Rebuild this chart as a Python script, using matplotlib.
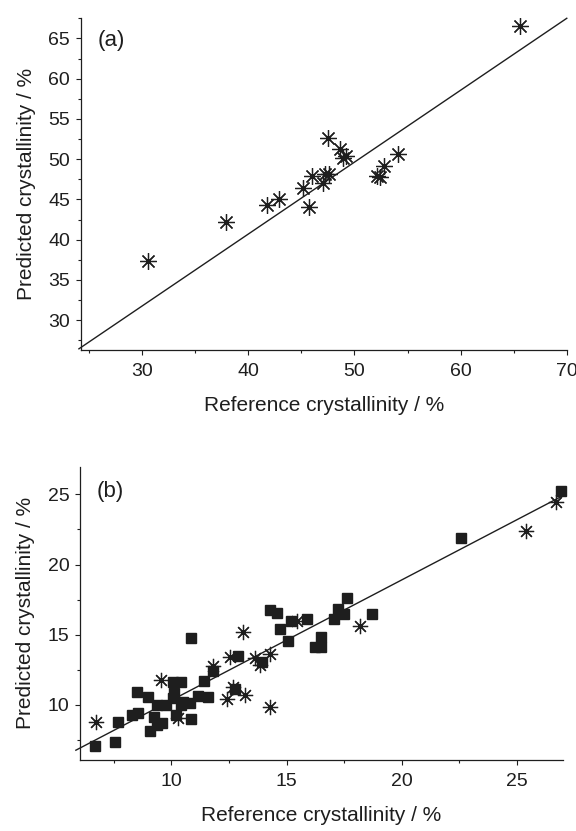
import matplotlib
matplotlib.use("Agg")
import matplotlib.pyplot as plt
from matplotlib.ticker import MultipleLocator

plt.rcParams["font.family"] = ["Liberation Sans", "DejaVu Sans"]

INK = "#1e1e1e"

# (a) reference vs predicted crystallinity, asterisks
a_ref = [30.6, 37.9, 41.8, 42.9, 45.2, 45.7, 46.0, 47.0, 47.2, 47.6,
         47.5, 48.6, 48.9, 49.2, 52.1, 52.4, 52.8, 54.1, 65.6]
a_pred = [37.4, 42.2, 44.3, 45.1, 46.4, 44.1, 47.9, 47.1, 48.2, 48.2,
          52.6, 51.3, 50.1, 50.4, 47.9, 47.8, 49.1, 50.6, 66.5]
a_line_x = [24.05, 70.0]
a_line_y = [26.45, 67.5]

# (b) squares
b_sq_ref = [6.67, 7.54, 7.66, 8.29, 8.55, 8.52, 8.98, 9.06, 9.25, 9.38,
            9.38, 9.61, 9.78, 10.07, 10.11, 10.07, 10.19, 10.40, 10.40, 10.50,
            10.80, 10.87, 10.85, 11.16, 11.40, 11.59, 11.81, 12.75, 12.89, 13.95,
            14.27, 14.60, 14.73, 15.08, 15.18, 15.90, 16.22, 16.48, 16.51, 17.04,
            17.23, 17.49, 17.62, 18.71, 22.59, 26.93]
b_sq_pred = [7.08, 7.39, 8.81, 9.29, 9.45, 10.95, 10.59, 8.17, 9.12, 8.58,
             10.00, 8.69, 10.00, 11.61, 10.88, 10.47, 9.29, 11.61, 10.00, 10.24,
             10.15, 9.00, 14.80, 10.64, 11.71, 10.59, 12.44, 11.12, 13.49, 13.08,
             16.77, 16.53, 15.43, 14.58, 16.00, 16.10, 14.15, 14.15, 14.82, 16.12,
             16.84, 16.46, 17.60, 16.46, 21.87, 25.24]
# (b) asterisks
b_ast_ref = [6.71, 9.54, 10.29, 11.81, 12.43, 12.53, 12.67, 13.11, 13.18,
             13.64, 13.83, 14.27, 14.27, 15.47, 18.20, 25.38, 26.71]
b_ast_pred = [8.77, 11.78, 9.05, 12.78, 10.41, 13.44, 11.30, 15.22, 10.71,
              13.37, 12.85, 13.63, 9.88, 16.00, 15.62, 22.41, 24.44]
b_line_x = [5.85, 26.91]
b_line_y = [6.78, 24.83]

AST = (8, 2, 0)


def style_axes(ax):
    for side in ("top", "right"):
        ax.spines[side].set_visible(False)
    for side in ("left", "bottom"):
        ax.spines[side].set_linewidth(0.9)
        ax.spines[side].set_color(INK)
    ax.tick_params(which="both", direction="out", width=0.8, colors=INK,
                   labelsize=14, labelcolor=INK)
    ax.tick_params(which="major", length=3.6)
    ax.tick_params(which="minor", length=2.2)
    ax.tick_params(axis="x", which="both", pad=6)
    ax.tick_params(axis="y", which="both", pad=4)


fig = plt.figure(figsize=(5.76, 8.31), dpi=100)

# panel (a)
ax1 = fig.add_axes([0.1398, 0.5788, 0.8442, 0.3992])
ax1.plot(a_line_x, a_line_y, color=INK, lw=1.0, clip_on=False, zorder=2)
ax1.plot(a_ref, a_pred, linestyle="none", marker=AST, markersize=12,
         markeredgewidth=0.9, color=INK, zorder=3)
ax1.set_xlim(24.2, 70)
ax1.set_ylim(26.3, 67.5)
ax1.xaxis.set_major_locator(MultipleLocator(10))
ax1.xaxis.set_minor_locator(MultipleLocator(5))
ax1.yaxis.set_major_locator(MultipleLocator(5))
ax1.yaxis.set_minor_locator(MultipleLocator(2.5))
style_axes(ax1)
ax1.set_xlabel("Reference crystallinity / %", fontsize=15, color=INK, labelpad=11)
ax1.set_ylabel("Predicted crystallinity / %", fontsize=15, color=INK, labelpad=9)
ax1.text(0.035, 0.965, "(a)", transform=ax1.transAxes, fontsize=16,
         color=INK, ha="left", va="top")

# panel (b)
ax2 = fig.add_axes([0.1389, 0.0854, 0.8385, 0.3530])
ax2.plot(b_line_x, b_line_y, color=INK, lw=1.0, clip_on=False, zorder=2)
ax2.plot(b_sq_ref, b_sq_pred, linestyle="none", marker="s", markersize=6.5,
         color=INK, zorder=3, clip_on=False)
ax2.plot(b_ast_ref, b_ast_pred, linestyle="none", marker=AST, markersize=11,
         markeredgewidth=0.9, color=INK, zorder=4, clip_on=False)
ax2.set_xlim(6.03, 27.0)
ax2.set_ylim(6.08, 26.97)
ax2.xaxis.set_major_locator(MultipleLocator(5))
ax2.xaxis.set_minor_locator(MultipleLocator(2.5))
ax2.yaxis.set_major_locator(MultipleLocator(5))
ax2.yaxis.set_minor_locator(MultipleLocator(2.5))
style_axes(ax2)
ax2.set_xlabel("Reference crystallinity / %", fontsize=15, color=INK, labelpad=11)
ax2.set_ylabel("Predicted crystallinity / %", fontsize=15, color=INK, labelpad=9)
ax2.text(0.035, 0.95, "(b)", transform=ax2.transAxes, fontsize=16,
         color=INK, ha="left", va="top")

fig.savefig("out.png", dpi=100)
plt.close(fig)
